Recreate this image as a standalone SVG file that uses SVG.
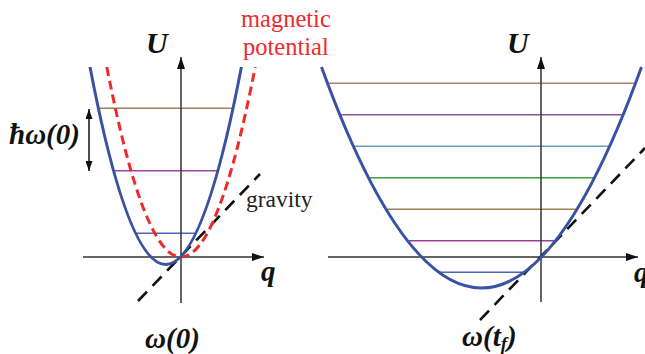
<svg xmlns="http://www.w3.org/2000/svg" width="645" height="354" viewBox="0 0 645 354">
<defs>
<marker id="ah" viewBox="0 0 12 8" refX="12" refY="4" markerWidth="12" markerHeight="8" markerUnits="userSpaceOnUse" orient="auto"><path d="M0,0 L12,4 L0,8 Z" fill="#111"/></marker>
<marker id="ah2" viewBox="0 0 10 7" refX="10" refY="3.5" markerWidth="10" markerHeight="7" markerUnits="userSpaceOnUse" orient="auto-start-reverse"><path d="M0,0 L10,3.5 L0,7 Z" fill="#111"/></marker>
</defs>
<style>
.axis{stroke:#333;stroke-width:1.5;fill:none}
.lvl{stroke-width:1.6;fill:none}
.well{stroke:#3a52a3;stroke-width:3;fill:none}
.mag{stroke:#ee2a2a;stroke-width:3;fill:none;stroke-dasharray:9 5}
.grav{stroke:#111;stroke-width:2.6;fill:none;stroke-dasharray:13 8}
</style>
<rect width="645" height="354" fill="#fff"/>
<g id="left-levels">
<line class="lvl" x1="135.6" y1="233.25" x2="195.8" y2="233.25" stroke="#4a68b0"/>
<line class="lvl" x1="113.6" y1="170.75" x2="217.8" y2="170.75" stroke="#a040a0"/>
<line class="lvl" x1="98.4" y1="108.25" x2="233" y2="108.25" stroke="#a0825a"/>
</g>
<g id="right-levels">
<line class="lvl" x1="438.8" y1="272.25" x2="524.2" y2="272.25" stroke="#4a68b0"/>
<line class="lvl" x1="407.5" y1="240.75" x2="555.5" y2="240.75" stroke="#a03c96"/>
<line class="lvl" x1="386" y1="209.25" x2="577" y2="209.25" stroke="#a08050"/>
<line class="lvl" x1="368.5" y1="177.75" x2="594.5" y2="177.75" stroke="#3ea040"/>
<line class="lvl" x1="353.3" y1="146.25" x2="609.7" y2="146.25" stroke="#6b9bb8"/>
<line class="lvl" x1="339.8" y1="114.75" x2="623.2" y2="114.75" stroke="#8552a2"/>
<line class="lvl" x1="327.5" y1="83.25" x2="635.5" y2="83.25" stroke="#b0806e"/>
</g>
<g id="connectors">
<line class="axis" x1="83" y1="257" x2="264" y2="257" marker-end="url(#ah)"/>
<line class="axis" x1="181" y1="303" x2="181" y2="57" marker-end="url(#ah)"/>
<line class="axis" x1="328" y1="257" x2="638" y2="257" marker-end="url(#ah)"/>
<line class="axis" x1="541" y1="302" x2="541" y2="57" marker-end="url(#ah)"/>
<line x1="89" y1="109" x2="89" y2="171" stroke="#111" stroke-width="1.5" marker-start="url(#ah2)" marker-end="url(#ah2)"/>
</g>
<g id="gravity-lines">
<line class="grav" x1="138" y1="301" x2="260" y2="174"/>
<line class="grav" x1="480" y1="320" x2="645" y2="148"/>
</g>
<g id="magnetic">
<path class="mag" d="M106.8,67 Q181,447 255.2,67"/>
</g>
<g id="wells">
<path class="well" d="M90,67 Q165.7,462 241.4,67"/>
<path class="well" d="M321.5,67 Q481.5,509 641.5,67"/>
</g>
<g id="math-labels" font-family="Liberation Serif, DejaVu Serif, serif" font-weight="bold" font-style="italic" font-size="29" fill="#111">
<text x="146" y="53" font-size="30">U</text>
<text x="507" y="53" font-size="30">U</text>
<text x="261" y="281">q</text>
<text x="634" y="282">q</text>
<text x="9" y="144">ħω(0)</text>
<text x="145" y="348">ω(0)</text>
<text x="462" y="346">ω(t<tspan font-size="19" dy="4">f</tspan><tspan dy="-4">)</tspan></text>
</g>
<g id="text-labels" font-family="Liberation Serif, DejaVu Serif, serif" font-size="24.5">
<text x="241" y="27" fill="#ee2a2a">magnetic</text>
<text x="243" y="55" fill="#ee2a2a">potential</text>
<text x="246" y="207" fill="#222" font-size="23.5">gravity</text>
</g>
</svg>
